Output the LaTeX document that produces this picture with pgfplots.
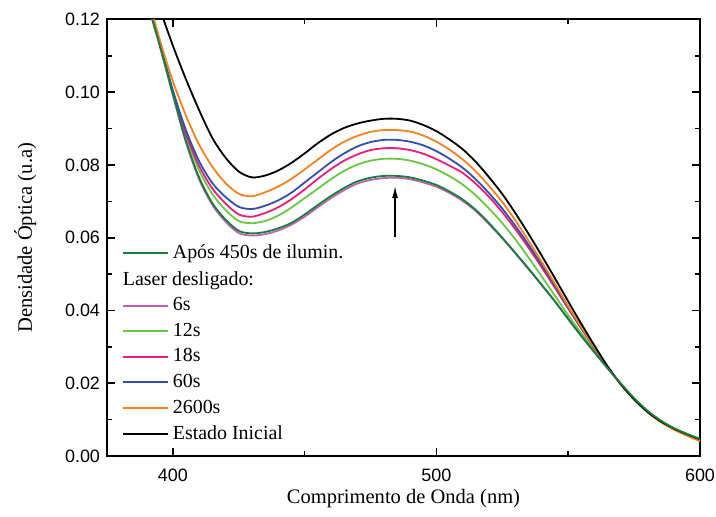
\documentclass[border=0pt]{standalone}
\usepackage{pgfplots}
\usepackage{pgfplotstable}
\pgfplotsset{compat=1.18}
\usetikzlibrary{arrows.meta}
\usepackage{fontspec}
\setmainfont{Liberation Serif}
\newfontfamily\ticksfont{Liberation Sans}

\definecolor{cdg}{RGB}{21,128,61}
\definecolor{cmg}{RGB}{195,95,175}
\definecolor{clg}{RGB}{105,200,65}
\definecolor{cpk}{RGB}{232,28,125}
\definecolor{cbl}{RGB}{50,80,170}
\definecolor{cor}{RGB}{245,130,32}

\pgfplotstableread{
x   mg     dg     lg     pk     bl     or     bk
390 0.1253 0.1255 0.1258 0.1260 0.1262 0.1275 0.1330
395 0.1127 0.1130 0.1132 0.1133 0.1135 0.1145 0.1230
400 0.0992 0.0995 0.0999 0.1002 0.1005 0.1030 0.1128
405 0.0861 0.0865 0.0877 0.0885 0.0895 0.0935 0.1035
410 0.0760 0.0765 0.0785 0.0797 0.0810 0.0855 0.0950
415 0.0690 0.0695 0.0720 0.0735 0.0750 0.0795 0.0874
420 0.0644 0.0650 0.0676 0.0694 0.0712 0.0750 0.0820
425 0.0613 0.0619 0.0646 0.0664 0.0685 0.0721 0.0782
430 0.0606 0.0612 0.0640 0.0658 0.0679 0.0714 0.0766
435 0.0610 0.0616 0.0646 0.0668 0.0688 0.0725 0.0771
440 0.0620 0.0626 0.0661 0.0684 0.0703 0.0741 0.0785
445 0.0636 0.0641 0.0683 0.0706 0.0724 0.0762 0.0806
450 0.0658 0.0664 0.0709 0.0733 0.0752 0.0788 0.0832
455 0.0684 0.0690 0.0735 0.0762 0.0780 0.0815 0.0860
460 0.0709 0.0715 0.0761 0.0789 0.0808 0.0842 0.0884
465 0.0731 0.0737 0.0784 0.0812 0.0832 0.0864 0.0902
470 0.0749 0.0755 0.0801 0.0829 0.0851 0.0880 0.0914
475 0.0759 0.0765 0.0812 0.0841 0.0863 0.0891 0.0922
480 0.0764 0.0770 0.0817 0.0846 0.0869 0.0896 0.0927
485 0.0765 0.0770 0.0817 0.0846 0.0869 0.0896 0.0927
490 0.0761 0.0766 0.0812 0.0841 0.0864 0.0892 0.0922
495 0.0752 0.0757 0.0802 0.0831 0.0854 0.0881 0.0910
500 0.0740 0.0745 0.0788 0.0816 0.0838 0.0864 0.0893
505 0.0723 0.0727 0.0769 0.0798 0.0817 0.0842 0.0870
510 0.0701 0.0705 0.0746 0.0778 0.0792 0.0815 0.0843
515 0.0673 0.0676 0.0716 0.0748 0.0760 0.0782 0.0808
520 0.0637 0.0640 0.0680 0.0712 0.0722 0.0742 0.0766
525 0.0598 0.0600 0.0640 0.0670 0.0680 0.0698 0.0720
530 0.0556 0.0558 0.0595 0.0623 0.0632 0.0647 0.0667
535 0.0513 0.0515 0.0545 0.0572 0.0580 0.0591 0.0610
540 0.0469 0.0470 0.0493 0.0518 0.0525 0.0533 0.0550
545 0.0424 0.0425 0.0440 0.0462 0.0468 0.0473 0.0488
550 0.0376 0.0377 0.0387 0.0405 0.0409 0.0412 0.0425
555 0.0329 0.0330 0.0337 0.0350 0.0352 0.0354 0.0363
560 0.0284 0.0285 0.0289 0.0296 0.0297 0.0298 0.0303
565 0.0240 0.0241 0.0242 0.0244 0.0244 0.0244 0.0246
570 0.0198 0.0199 0.0198 0.0197 0.0197 0.0196 0.0197
575 0.0158 0.0159 0.0157 0.0156 0.0156 0.0155 0.0156
580 0.0124 0.0125 0.0123 0.0122 0.0122 0.0121 0.0122
585 0.0097 0.0098 0.0096 0.0095 0.0095 0.0094 0.0096
590 0.0076 0.0077 0.0075 0.0074 0.0074 0.0073 0.0076
595 0.0060 0.0061 0.0059 0.0057 0.0057 0.0056 0.0060
600 0.0046 0.0047 0.0044 0.0042 0.0042 0.0041 0.0046
}\spectra

\begin{document}
\begin{tikzpicture}
\useasboundingbox (-53.5bp,-30.5bp) rectangle (304.5bp,228bp);
\begin{axis}[
  scale only axis,
  width=296.5bp, height=218.25bp,
  xmin=375, xmax=600, ymin=0, ymax=0.12,
  xtick={400,500,600}, minor xtick={450,550},
  ytick={0,0.02,0.04,0.06,0.08,0.10,0.12},
  minor ytick={0.01,0.03,0.05,0.07,0.09,0.11},
  tick align=inside,
  major tick length=4bp, minor tick length=2.5bp,
  every tick/.style={black, line width=0.8bp},
  axis line style={line width=1bp},
  /pgf/number format/assume math mode=true,
  ticklabel style={font=\ticksfont\fontsize{9}{10}\selectfont},
  xticklabel style={yshift=-3bp},
  yticklabel style={/pgf/number format/.cd, fixed, fixed zerofill, precision=2},
  scaled y ticks=false,
  xlabel={Comprimento de Onda (nm)},
  ylabel={Densidade Óptica (u.a)},
  label style={font=\fontsize{10.3}{12}\selectfont},
  xlabel style={at={(axis description cs:0.5,-0.0985)}, anchor=center},
  ylabel style={at={(axis description cs:-0.138,0.5)}, anchor=center},
  legend style={at={(axis cs:380.5,0.0592)}, anchor=north west, draw=none, fill=none,
    font=\fontsize{10}{12}\selectfont, row sep=0.7bp, inner sep=0pt},
  legend cell align=left,
  legend image code/.code={\draw[line width=1bp, #1] (0bp,0bp) -- (22.5bp,0bp);},
]
\addplot[forget plot, smooth, cmg, line width=0.9bp] table[x=x,y=mg]{\spectra};
\addplot[forget plot, smooth, clg, line width=0.9bp] table[x=x,y=lg]{\spectra};
\addplot[forget plot, smooth, cpk, line width=0.9bp] table[x=x,y=pk]{\spectra};
\addplot[forget plot, smooth, cbl, line width=0.9bp] table[x=x,y=bl]{\spectra};
\addplot[forget plot, smooth, cor, line width=0.9bp] table[x=x,y=or]{\spectra};
\addplot[forget plot, smooth, black, line width=0.9bp] table[x=x,y=bk]{\spectra};
\addplot[forget plot, smooth, cdg, line width=0.9bp] table[x=x,y=dg]{\spectra};
\addplot[forget plot, black, line width=0.6bp, -{Latex[length=6bp,width=3bp]}] coordinates {(484.3,0.0603) (484.3,0.0742)};

\addlegendimage{color=cdg}\addlegendentry{Após 450s de ilumin.}
\addlegendimage{empty legend}\addlegendentry{\hspace*{-25bp}Laser desligado:}
\addlegendimage{color=cmg}\addlegendentry{6s}
\addlegendimage{color=clg}\addlegendentry{12s}
\addlegendimage{color=cpk}\addlegendentry{18s}
\addlegendimage{color=cbl}\addlegendentry{60s}
\addlegendimage{color=cor}\addlegendentry{2600s}
\addlegendimage{color=black}\addlegendentry{Estado Inicial}
\end{axis}
\end{tikzpicture}
\end{document}
